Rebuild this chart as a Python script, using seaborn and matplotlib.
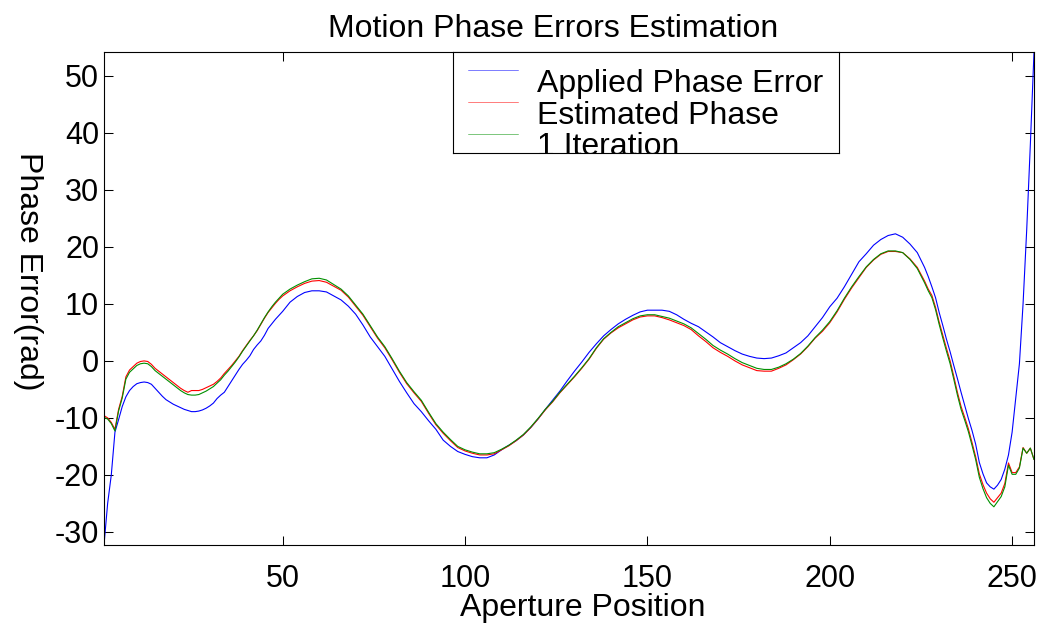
import matplotlib
matplotlib.use("Agg")
import matplotlib.pyplot as plt
import pandas as pd
import seaborn as sns

# Aperture positions at which the phase curves are sampled
positions = list(range(1, 51)) + list(range(52, 227, 2)) + list(range(227, 257))

applied_phase_error = [
    -32.3, -25.0, -20.0, -12.5, -10.3, -8.0, -6.3, -5.2, -4.5, -4.0,
    -3.8, -3.7, -3.8, -4.1, -4.8, -5.5, -6.2, -6.8, -7.2, -7.6,
    -7.9, -8.2, -8.5, -8.7, -8.9, -8.9, -8.8, -8.6, -8.3, -7.9,
    -7.4, -6.6, -6.0, -5.5, -4.5, -3.5, -2.5, -1.5, -0.6, 0.1,
    0.9, 2.0, 2.8, 3.5, 4.5, 5.7, 6.5, 7.3, 8.0, 8.7,
    10.3, 11.3, 12.0, 12.3, 12.3, 12.1, 11.4, 10.7, 9.6, 8.2,
    6.3, 4.2, 2.5, 0.8, -1.4, -3.6, -5.6, -7.5, -8.9, -10.5,
    -12.0, -13.9, -15.0, -15.9, -16.4, -16.8, -17.0, -17.0, -16.5, -15.6,
    -14.8, -14.0, -13.0, -11.7, -10.2, -8.5, -6.9, -5.3, -3.5, -1.8,
    -0.2, 1.5, 3.0, 4.4, 5.5, 6.5, 7.3, 8.0, 8.6, 8.9,
    8.9, 8.9, 8.7, 8.1, 7.3, 6.6, 6.0, 5.1, 4.2, 3.2,
    2.5, 1.8, 1.2, 0.8, 0.5, 0.4, 0.5, 0.9, 1.4, 2.3,
    3.2, 4.4, 6.0, 7.6, 9.5, 11.0, 13.0, 15.2, 17.4, 18.8,
    20.3, 21.3, 22.0, 22.3, 21.7, 20.5, 19.0, 16.4,
    14.8, 13.0, 11.1, 8.5, 6.2, 3.8, 1.6, -0.8, -3.1, -5.5,
    -7.8, -10.1, -12.2, -14.6, -17.8, -19.8, -21.4, -22.1, -22.5, -21.8,
    -20.8, -19.0, -16.5, -12.5, -6.5, -0.5, 10.0, 23.0, 38.0, 54.2,
]

estimated_phase = [
    -9.6, -10.0, -10.8, -12.0, -8.5, -6.2, -2.8, -1.6, -1.0, -0.4,
    -0.1, 0.0, -0.1, -0.6, -1.3, -1.8, -2.3, -2.8, -3.3, -3.8,
    -4.3, -4.8, -5.2, -5.5, -5.2, -5.2, -5.2, -5.0, -4.7, -4.4,
    -4.1, -3.6, -3.0, -2.2, -1.5, -0.8, 0.0, 0.8, 1.8, 2.7,
    3.6, 4.4, 5.3, 6.4, 7.5, 8.5, 9.3, 10.1, 10.8, 11.4,
    12.3, 13.0, 13.6, 14.0, 14.1, 13.8, 13.1, 12.4, 11.2, 9.6,
    8.0, 6.0, 4.0, 2.3, 0.2, -2.0, -4.0, -5.6, -7.1, -9.2,
    -11.2, -12.7, -14.0, -15.2, -15.8, -16.2, -16.5, -16.5, -16.3, -15.6,
    -14.9, -14.0, -13.0, -11.7, -10.2, -8.6, -7.2, -5.6, -4.2, -2.8,
    -1.3, 0.3, 2.2, 3.8, 4.9, 5.8, 6.5, 7.2, 7.7, 7.9,
    7.9, 7.6, 7.2, 6.7, 6.2, 5.5, 4.4, 3.4, 2.3, 1.5,
    0.8, 0.0, -0.7, -1.2, -1.7, -1.8, -1.8, -1.3, -0.7, 0.2,
    1.2, 2.5, 4.0, 5.2, 6.7, 8.6, 10.8, 12.8, 14.6, 16.4,
    17.7, 18.7, 19.2, 19.2, 19.0, 17.9, 16.4, 14.0,
    12.6, 11.5, 9.4, 6.8, 4.5, 2.2, 0.0, -2.7, -5.5, -8.0,
    -9.9, -11.9, -14.3, -16.8, -19.8, -21.7, -23.2, -24.2, -24.8, -24.0,
    -23.2, -21.5, -17.9, -19.6, -19.6, -18.6, -15.2, -16.2, -15.3, -17.3,
]

one_iteration = [
    -9.9, -10.2, -11.0, -12.3, -8.8, -6.5, -3.2, -2.0, -1.4, -0.8,
    -0.5, -0.4, -0.5, -1.0, -1.7, -2.2, -2.7, -3.2, -3.7, -4.2,
    -4.7, -5.2, -5.6, -5.9, -6.0, -6.0, -5.9, -5.6, -5.3, -4.9,
    -4.5, -3.9, -3.3, -2.5, -1.8, -1.0, -0.2, 0.7, 1.7, 2.6,
    3.5, 4.4, 5.4, 6.5, 7.6, 8.6, 9.5, 10.3, 11.0, 11.7,
    12.6, 13.3, 13.9, 14.4, 14.5, 14.2, 13.4, 12.6, 11.4, 9.8,
    8.2, 6.2, 4.2, 2.5, 0.4, -1.8, -3.8, -5.4, -6.9, -9.0,
    -11.0, -12.5, -13.8, -15.0, -15.6, -16.0, -16.3, -16.3, -16.1, -15.5,
    -14.8, -13.9, -12.9, -11.6, -10.1, -8.5, -7.1, -5.5, -4.1, -2.7,
    -1.2, 0.4, 2.3, 3.9, 5.0, 6.0, 6.7, 7.4, 7.9, 8.1,
    8.1, 7.8, 7.5, 7.0, 6.5, 5.8, 4.8, 3.8, 2.7, 1.9,
    1.2, 0.4, -0.3, -0.8, -1.3, -1.5, -1.5, -1.1, -0.5, 0.3,
    1.3, 2.6, 4.1, 5.4, 6.9, 8.8, 11.0, 13.0, 14.8, 16.5,
    17.8, 18.8, 19.3, 19.3, 19.0, 17.8, 16.2, 13.7,
    12.3, 11.1, 9.0, 6.4, 4.0, 1.7, -0.5, -3.2, -6.0, -8.5,
    -10.4, -12.4, -14.8, -17.3, -20.4, -22.4, -24.0, -25.0, -25.6, -24.7,
    -23.8, -22.1, -18.3, -19.9, -19.9, -18.8, -15.3, -16.2, -15.3, -17.3,
]

series_names = ["Applied Phase Error", "Estimated Phase", "1 Iteration"]
series_colors = ["#0000ff", "#ff0000", "#009000"]
x_ticks = [50, 100, 150, 200, 250]
y_ticks = [-30, -20, -10, 0, 10, 20, 30, 40, 50]

title_text = "Motion Phase Errors Estimation"
x_label = "Aperture Position"
y_label = "Phase Error(rad)"

sns.set_style("white")
plt.rcParams["font.family"] = ["Liberation Sans", "DejaVu Sans"]
plt.rcParams["axes.unicode_minus"] = False
plt.rcParams["text.color"] = "black"
plt.rcParams["axes.labelcolor"] = "black"
FS_TICK = 22
FS_TEXT = 23

df = pd.DataFrame({
    "position": positions * 3,
    "value": applied_phase_error + estimated_phase + one_iteration,
    "series": [series_names[0]] * len(positions)
    + [series_names[1]] * len(positions)
    + [series_names[2]] * len(positions),
})

W, H = 1048, 626
fig = plt.figure(figsize=(W / 100, H / 100), dpi=100)
ax = fig.add_axes([104 / W, 1 - 545 / H, 930 / W, 493 / H])

sns.lineplot(
    data=df, x="position", y="value", hue="series",
    hue_order=series_names, palette=dict(zip(series_names, series_colors)),
    estimator=None, sort=False, linewidth=0.8, legend=False, ax=ax,
)

ax.set_xlim(1, 256)
ax.set_ylim(min(applied_phase_error), max(applied_phase_error))
ax.set_xticks(x_ticks)
ax.set_yticks(y_ticks)
ax.tick_params(direction="in", length=6.5, width=0.75, colors="black",
               bottom=True, left=True, top=True, right=True,
               labelsize=FS_TICK)
ax.tick_params(axis="x", pad=14)
ax.tick_params(axis="y", pad=3.5)
for sp in ax.spines.values():
    sp.set_color("black")
    sp.set_linewidth(0.8)

ax.set_title(title_text, fontsize=FS_TEXT, x=0.4833, y=1.030, va="center",
             color="black")
ax.set_xlabel(x_label, fontsize=FS_TEXT, va="center", ha="center",
              color="black")
ax.xaxis.set_label_coords(0.515, -0.128)
ax.set_ylabel(y_label, fontsize=FS_TEXT, rotation=270, va="center",
              ha="center", color="black")
ax.yaxis.set_label_coords(-0.0817, 0.556)

# Boxed legend in the upper middle of the plot
lax = fig.add_axes([453 / W, 1 - 153 / H, 386 / W, 101 / H], zorder=5)
lax.set_xlim(0, 386)
lax.set_ylim(101, 0)
lax.set_xticks([])
lax.set_yticks([])
lax.set_facecolor("white")
for sp in lax.spines.values():
    sp.set_color("black")
    sp.set_linewidth(0.8)
for i, (name, col) in enumerate(zip(series_names, series_colors)):
    lax.plot([15, 65], [18 + 32 * i] * 2, color=col, linewidth=0.6, alpha=0.6)
    lax.text(84, 40 + 31.5 * i, name, fontsize=FS_TEXT, va="baseline",
             ha="left", color="black", clip_on=True)

fig.savefig("out.png", dpi=100)
